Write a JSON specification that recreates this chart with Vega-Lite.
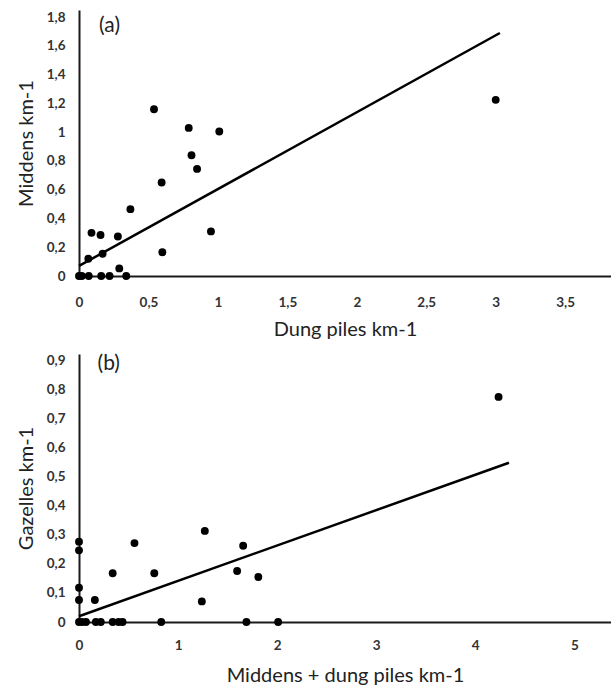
{
  "$schema": "https://vega.github.io/schema/vega-lite/v6.json",
  "padding": {"left": 16, "top": 10, "right": 0, "bottom": 0},
  "background": "white",
  "spacing": 12,
  "datasets": {
    "pa": [
      {"x": 0, "y": 0}, {"x": 0.02, "y": 0}, {"x": 0.07, "y": 0}, {"x": 0.16, "y": 0},
      {"x": 0.22, "y": 0}, {"x": 0.34, "y": 0}, {"x": 0.29, "y": 0.053}, {"x": 0.067, "y": 0.12},
      {"x": 0.09, "y": 0.30}, {"x": 0.155, "y": 0.285}, {"x": 0.17, "y": 0.155}, {"x": 0.28, "y": 0.275},
      {"x": 0.37, "y": 0.465}, {"x": 0.54, "y": 1.16}, {"x": 0.595, "y": 0.65}, {"x": 0.60, "y": 0.165},
      {"x": 0.79, "y": 1.03}, {"x": 0.81, "y": 0.84}, {"x": 0.85, "y": 0.745}, {"x": 1.01, "y": 1.005},
      {"x": 0.95, "y": 0.31}, {"x": 3.0, "y": 1.225}
    ],
    "la": [{"x": 0, "y": 0.07}, {"x": 3.03, "y": 1.69}],
    "ta": [{"x": 0.22, "y": 1.74, "label": "(a)"}],
    "pb": [
      {"x": 0, "y": 0.277}, {"x": 0, "y": 0.247}, {"x": 0, "y": 0.118}, {"x": 0, "y": 0.076},
      {"x": 0, "y": 0}, {"x": 0.03, "y": 0}, {"x": 0.07, "y": 0}, {"x": 0.16, "y": 0.076},
      {"x": 0.17, "y": 0}, {"x": 0.22, "y": 0}, {"x": 0.34, "y": 0}, {"x": 0.40, "y": 0},
      {"x": 0.44, "y": 0}, {"x": 0.34, "y": 0.168}, {"x": 0.56, "y": 0.272}, {"x": 0.76, "y": 0.168},
      {"x": 0.83, "y": 0}, {"x": 1.27, "y": 0.314}, {"x": 1.24, "y": 0.071}, {"x": 1.657, "y": 0.263},
      {"x": 1.596, "y": 0.176}, {"x": 1.81, "y": 0.155}, {"x": 1.69, "y": 0}, {"x": 2.01, "y": 0},
      {"x": 4.235, "y": 0.776}
    ],
    "lb": [{"x": 0, "y": 0.02}, {"x": 4.34, "y": 0.549}],
    "tb": [{"x": 0.3, "y": 0.89, "label": "(b)"}]
  },
  "vconcat": [
    {
      "width": 532,
      "height": 266,
      "layer": [
        {
          "data": {"name": "la"},
          "mark": {"type": "line", "color": "black", "strokeWidth": 2.5},
          "encoding": {
            "x": {"field": "x", "type": "quantitative", "scale": {"domain": [0, 3.83], "nice": false},
              "axis": {"title": "Dung piles km-1", "tickCount": 8, "labelOverlap": false, "labelPadding": 19, "titlePadding": 11,
                "labelExpr": "replace(format(datum.value, '~g'), '.', ',')"}},
            "y": {"field": "y", "type": "quantitative", "scale": {"domain": [0, 1.85], "nice": false},
              "axis": {"title": "Middens km-1", "tickCount": 10, "labelOverlap": false, "labelSeparation": 0,
                "labelExpr": "replace(format(datum.value, '~g'), '.', ',')"}}
          }
        },
        {
          "data": {"name": "pa"},
          "mark": {"type": "circle", "color": "black", "opacity": 1, "size": 62},
          "encoding": {
            "x": {"field": "x", "type": "quantitative"},
            "y": {"field": "y", "type": "quantitative"}
          }
        },
        {
          "data": {"name": "ta"},
          "mark": {"type": "text", "font": "Lato", "fontSize": 21, "color": "#222", "align": "center", "baseline": "middle"},
          "encoding": {
            "x": {"field": "x", "type": "quantitative"},
            "y": {"field": "y", "type": "quantitative"},
            "text": {"field": "label"}
          }
        }
      ]
    },
    {
      "width": 532,
      "height": 268,
      "layer": [
        {
          "data": {"name": "lb"},
          "mark": {"type": "line", "color": "black", "strokeWidth": 2.5},
          "encoding": {
            "x": {"field": "x", "type": "quantitative", "scale": {"domain": [0, 5.37], "nice": false},
              "axis": {"title": "Middens + dung piles km-1", "tickCount": 6, "labelOverlap": false, "labelPadding": 16, "titlePadding": 14,
                "labelExpr": "replace(format(datum.value, '~g'), '.', ',')"}},
            "y": {"field": "y", "type": "quantitative", "scale": {"domain": [0, 0.924], "nice": false},
              "axis": {"title": "Gazelles km-1", "tickCount": 10, "labelOverlap": false, "labelSeparation": 0,
                "labelExpr": "replace(format(datum.value, '~g'), '.', ',')"}}
          }
        },
        {
          "data": {"name": "pb"},
          "mark": {"type": "circle", "color": "black", "opacity": 1, "size": 62},
          "encoding": {
            "x": {"field": "x", "type": "quantitative"},
            "y": {"field": "y", "type": "quantitative"}
          }
        },
        {
          "data": {"name": "tb"},
          "mark": {"type": "text", "font": "Lato", "fontSize": 21, "color": "#222", "align": "center", "baseline": "middle"},
          "encoding": {
            "x": {"field": "x", "type": "quantitative"},
            "y": {"field": "y", "type": "quantitative"},
            "text": {"field": "label"}
          }
        }
      ]
    }
  ],
  "config": {
    "view": {"stroke": null},
    "axis": {
      "grid": false,
      "ticks": false,
      "domainColor": "#1a1a1a",
      "domainWidth": 2,
      "labelFont": "Lato",
      "labelFontWeight": "bold",
      "labelFontSize": 13.5,
      "labelColor": "#333",
      "labelOverlap": false,
      "titleFont": "Lato",
      "titleFontWeight": "normal",
      "titleFontSize": 20,
      "titleColor": "#222"
    },
    "axisY": {"labelPadding": 14, "titlePadding": 10, "labelOverlap": false},
    "axisX": {"labelFlush": false}
  }
}
